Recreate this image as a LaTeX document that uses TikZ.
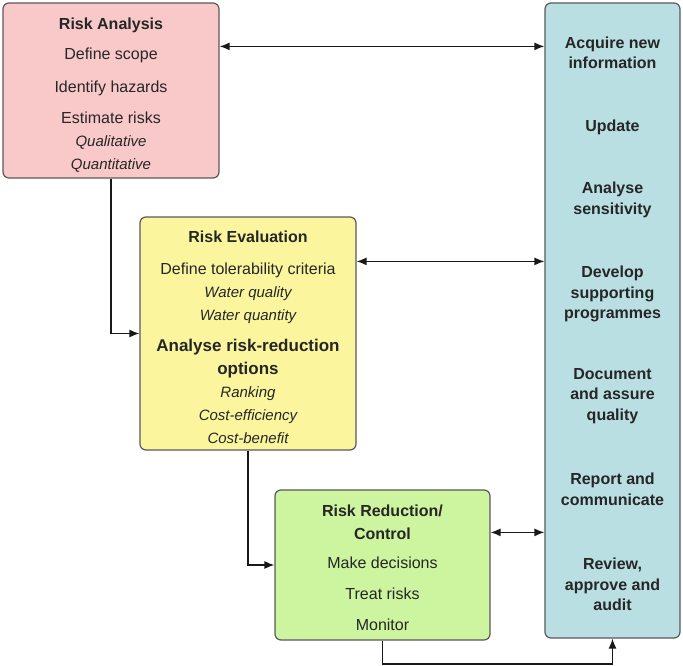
\documentclass[tikz,border=0pt]{standalone}
\usepackage{fontspec}
\setmainfont{Liberation Sans}
\usetikzlibrary{arrows.meta}
\definecolor{anapink}{HTML}{F9C9C9}
\definecolor{evayellow}{HTML}{FBF69E}
\definecolor{redgreen}{HTML}{CDF59F}
\definecolor{infoblue}{HTML}{BADFE3}
\newcommand{\sub}[1]{{\fontsize{15}{23}\selectfont\itshape #1}}
\newcommand{\push}[1]{\rule{0pt}{#1}}
\tikzstyle{line} = [draw, line width=1.3pt, black!90, -{Latex[length=10pt, width=8pt]}]
\tikzstyle{biline} = [draw, line width=1.3pt, black!90, {Latex[length=10pt, width=8pt]}-{Latex[length=10pt, width=8pt]}]
\tikzstyle{box} = [rectangle, draw=black!65, line width=1.2pt, rounded corners=6pt, inner sep=0pt, align=center, text=black!85, font=\fontsize{16}{23}\selectfont]

\begin{document}
\begin{tikzpicture}[x=1pt, y=-1pt]
	\useasboundingbox (0,0) rectangle (683,666);

	\node [box, fill=anapink, minimum width=216pt, minimum height=175pt] (ana) at (111,90.5) {\push{21pt}\textbf{Risk Analysis}\\[7pt] Define scope\\[10pt] Identify hazards\\[8pt] Estimate risks\\ \sub{Qualitative}\\ \sub{Quantitative}};
	\node [box, fill=evayellow, minimum width=216pt, minimum height=233pt] (eva) at (248,333.5) {\push{19.5pt}\textbf{Risk Evaluation}\\[9pt] Define tolerability criteria\\ \sub{Water quality}\\ \sub{Water quantity}\\[8pt] {\fontsize{17}{23}\selectfont\bfseries Analyse risk-reduction}\\ {\fontsize{17}{23}\selectfont\bfseries options}\\ \sub{Ranking}\\ \sub{Cost-efficiency}\\ \sub{Cost-benefit}};
	\node [box, fill=redgreen, minimum width=215pt, minimum height=150pt] (red) at (382.5,565) {\push{17.5pt}\textbf{Risk Reduction/}\\ \textbf{Control}\\[6pt] Make decisions\\[8pt] Treat risks\\[8pt] Monitor};
	\node [box, fill=infoblue, minimum width=135pt, minimum height=635pt, font=\fontsize{16}{20.5}\selectfont\bfseries] (info) at (612.5,320.5) {\push{18.5pt}Acquire new\\ information\\[42pt] Update\\[42pt] Analyse\\ sensitivity\\[43pt] Develop\\ supporting\\ programmes\\[40pt] Document\\ and assure\\ quality\\[44pt] Report and\\ communicate\\[44pt] Review,\\ approve and\\ audit};

	% links to the side box
	\coordinate (ana-in) at ([yshift=-44pt]ana.north east);
	\coordinate (eva-in) at ([yshift=-45pt]eva.north east);
	\coordinate (red-in) at ([yshift=-43pt]red.north east);
	\path [biline] (ana-in) -- (ana-in -| info.west);
	\path [biline] (eva-in) -- (eva-in -| info.west);
	\path [biline] (red-in) -- (red-in -| info.west);

	% steps
	\path [line] (ana.south) |- (eva.west);
	\path [line] (eva.south) |- (red.west);
	\coordinate (low) at (0,664);
	\path [line] (red.south) -- (red.south |- low) -| (info.south);
\end{tikzpicture}
\end{document}
